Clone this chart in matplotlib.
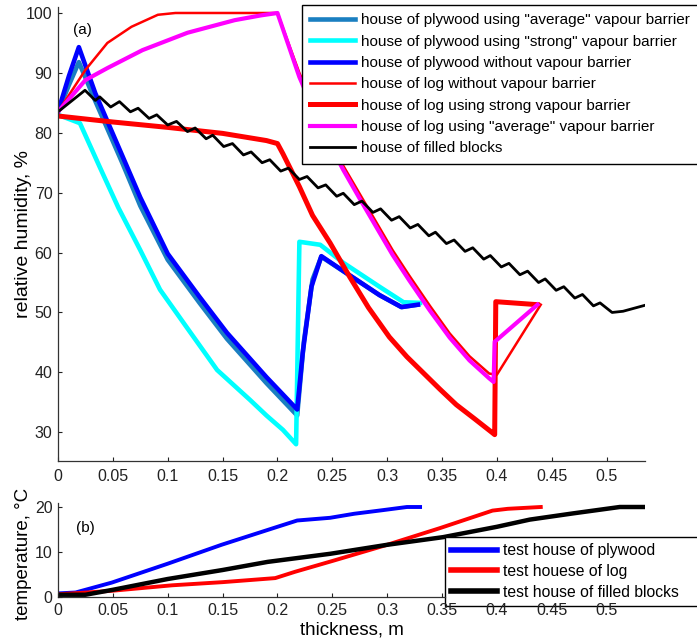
import matplotlib
matplotlib.use("Agg")
import matplotlib.pyplot as plt

plt.rcParams['font.family'] = ['Liberation Sans', 'DejaVu Sans']

# ---- (a) relative humidity ----
ply_avg_x = [0, 0.01, 0.019, 0.034, 0.059, 0.075, 0.1, 0.129, 0.154, 0.19, 0.218, 0.224, 0.232, 0.24, 0.265, 0.293, 0.313, 0.328]
ply_avg_y = [83.5, 88, 91.8, 85.3, 74.8, 67.8, 58.8, 51.6, 45.6, 38.2, 32.8, 45, 55.5, 59.3, 56.3, 52.9, 50.9, 51.3]

ply_strong_x = [0, 0.02, 0.038, 0.055, 0.075, 0.093, 0.117, 0.145, 0.175, 0.19, 0.205, 0.217, 0.22, 0.239, 0.26, 0.293, 0.315, 0.33]
ply_strong_y = [83, 81.6, 74.3, 67.5, 60.4, 53.8, 47.6, 40.4, 35.4, 32.8, 30.4, 28.0, 61.8, 61.3, 58.3, 54.3, 51.7, 51.6]

ply_none_x = [0, 0.01, 0.019, 0.034, 0.059, 0.075, 0.1, 0.129, 0.154, 0.19, 0.218, 0.223, 0.231, 0.24, 0.265, 0.293, 0.313, 0.328]
ply_none_y = [83.5, 89.5, 94.3, 86.6, 76, 69.2, 59.8, 52.6, 46.6, 39.2, 33.8, 43.2, 54.3, 59.4, 56.3, 52.9, 50.9, 51.3]

log_none_x = [0, 0.025, 0.045, 0.067, 0.091, 0.107, 0.2, 0.22, 0.24, 0.26, 0.275, 0.29, 0.305, 0.32, 0.339, 0.357, 0.375, 0.393, 0.40, 0.44]
log_none_y = [83.5, 90.5, 95, 97.7, 99.7, 100, 100, 90, 81.5, 74.5, 69.8, 65.1, 60.4, 56.2, 51.1, 46.5, 42.7, 39.8, 39.6, 51.3]

log_strong_x = [0, 0.05, 0.1, 0.15, 0.19, 0.2, 0.205, 0.22, 0.232, 0.248, 0.266, 0.283, 0.302, 0.318, 0.333, 0.348, 0.363, 0.38, 0.396, 0.398, 0.399, 0.437]
log_strong_y = [82.8, 81.8, 80.9, 79.9, 78.7, 78.2, 76.5, 71, 66.2, 61.6, 55.9, 50.8, 45.9, 42.6, 39.9, 37.2, 34.6, 32.2, 29.9, 29.6, 51.8, 51.3]

log_avg_x = [0, 0.025, 0.045, 0.077, 0.118, 0.161, 0.185, 0.2, 0.22, 0.24, 0.26, 0.275, 0.29, 0.305, 0.32, 0.339, 0.357, 0.375, 0.393, 0.397, 0.398, 0.437]
log_avg_y = [83.5, 88.8, 90.8, 93.8, 96.7, 98.8, 99.6, 100, 89.3, 80.8, 73.8, 69.0, 64.3, 59.6, 55.4, 50.3, 45.8, 42.0, 39.0, 38.4, 45.1, 51.3]

blocks_x = [0, 0.0246, 0.034, 0.038, 0.048, 0.056, 0.066, 0.073, 0.083, 0.090, 0.100, 0.108, 0.118,
            0.125, 0.135, 0.141, 0.151, 0.159, 0.169, 0.176, 0.186, 0.193, 0.203, 0.210, 0.220, 0.227,
            0.237, 0.244, 0.254, 0.260, 0.270, 0.277, 0.287, 0.294, 0.304, 0.311, 0.321, 0.328, 0.338,
            0.344, 0.354, 0.361, 0.371, 0.378, 0.388, 0.394, 0.404, 0.411, 0.421, 0.428, 0.438, 0.444,
            0.454, 0.461, 0.471, 0.478, 0.488, 0.494, 0.505, 0.515, 0.535]
blocks_y = [83.5, 87.1, 85.4, 86.0, 84.3, 85.2, 83.5, 84.1, 82.4, 83.0, 81.3, 81.9, 80.2,
            80.8, 79.0, 79.6, 77.7, 78.2, 76.3, 76.8, 75.0, 75.5, 73.6, 74.1, 72.2, 72.7,
            70.8, 71.3, 69.4, 69.9, 68.0, 68.6, 66.7, 67.3, 65.4, 66.0, 64.1, 64.7, 62.8,
            63.4, 61.5, 62.1, 60.2, 60.8, 58.9, 59.5, 57.6, 58.2, 56.3, 56.9, 55.0, 55.6,
            53.7, 54.3, 52.4, 53.0, 51.1, 51.6, 50.0, 50.2, 51.2]

# ---- (b) temperature ----
t_ply_x = [0, 0.016, 0.025, 0.049, 0.1, 0.149, 0.2, 0.218, 0.248, 0.27, 0.296, 0.318, 0.33]
t_ply_y = [0.8, 1.0, 1.6, 3.2, 7.4, 11.6, 15.6, 17.0, 17.6, 18.5, 19.3, 20, 20]

t_log_x = [0, 0.02, 0.05, 0.104, 0.15, 0.198, 0.216, 0.25, 0.3, 0.348, 0.396, 0.41, 0.44]
t_log_y = [0.6, 0.9, 1.4, 2.6, 3.3, 4.2, 5.6, 8.0, 11.6, 15.3, 19.2, 19.6, 20]

t_blk_x = [0, 0.025, 0.05, 0.1, 0.15, 0.191, 0.248, 0.3, 0.351, 0.4, 0.43, 0.47, 0.512, 0.535]
t_blk_y = [0.5, 0.5, 1.6, 4.0, 6.0, 7.8, 9.6, 11.6, 13.3, 15.6, 17.2, 18.6, 20, 20]

xticks = [0, 0.05, 0.1, 0.15, 0.2, 0.25, 0.3, 0.35, 0.4, 0.45, 0.5]
xtick_labels = ['0', '0.05', '0.1', '0.15', '0.2', '0.25', '0.3', '0.35', '0.4', '0.45', '0.5']

W, H = 697, 642
fig = plt.figure(figsize=(W / 100, H / 100), dpi=100)


def px_axes(left, top, right, bottom):
    return fig.add_axes([left / W, 1 - bottom / H, (right - left) / W, (bottom - top) / H])


def style(ax, xpad):
    for s in ['top', 'right']:
        ax.spines[s].set_visible(False)
    for s in ['left', 'bottom']:
        ax.spines[s].set_color('#333333')
        ax.spines[s].set_linewidth(0.9)
    ax.tick_params(direction='in', length=3, width=0.8, labelsize=11.5, colors='#222222', pad=4)
    ax.tick_params(axis='x', pad=xpad)
    ax.set_xlim(0, 0.535)
    ax.set_xticks(xticks)
    ax.set_xticklabels(xtick_labels)


ax1 = px_axes(58, 7, 645, 461)
style(ax1, 6)
ax1.plot(ply_avg_x, ply_avg_y, color='#1a7fc1', lw=3.3, label='house of plywood using "average" vapour barrier')
ax1.plot(ply_strong_x, ply_strong_y, color='#00ffff', lw=3.3, label='house of plywood using "strong" vapour barrier')
ax1.plot(ply_none_x, ply_none_y, color='#0000ff', lw=3.3, label='house of plywood without vapour barrier')
ax1.plot(log_none_x, log_none_y, color='#ff0000', lw=1.8, label='house of log without vapour barrier')
ax1.plot(log_strong_x, log_strong_y, color='#ff0000', lw=3.6, label='house of log using strong vapour barrier')
ax1.plot(log_avg_x, log_avg_y, color='#ff00ff', lw=3.0, label='house of log using "average" vapour barrier')
ax1.plot(blocks_x, blocks_y, color='black', lw=2.0, label='house of filled blocks')
ax1.set_ylim(25.2, 101)
ax1.set_yticks([30, 40, 50, 60, 70, 80, 90, 100])
ax1.set_ylabel('relative humidity, %', fontsize=14)
ax1.yaxis.set_label_coords(-0.045, 0.5)
ax1.text(0.022, 97.2, '(a)', fontsize=11, ha='center', va='center')
# legend box runs past the right edge of the figure, as in the original
leg1 = ax1.legend(loc='upper left', bbox_to_anchor=(302 / W, 1 - 5 / H - 0.01, 420 / W, 0.01),
                  bbox_transform=fig.transFigure, mode='expand',
                  fontsize=11.0, frameon=True, fancybox=False, framealpha=1, edgecolor='black',
                  handlelength=2.9, handletextpad=0.4, labelspacing=0.48, borderpad=0.55, borderaxespad=0)
leg1.get_frame().set_linewidth(1.0)

ax2 = px_axes(58, 502.5, 645, 597)
style(ax2, 4)
ax2.plot(t_ply_x, t_ply_y, color='#0000ff', lw=2.8, label='test house of plywood')
ax2.plot(t_log_x, t_log_y, color='#ff0000', lw=2.8, label='test houese of log')
ax2.plot(t_blk_x, t_blk_y, color='black', lw=3.2, label='test house of filled blocks')
ax2.set_ylim(0, 21)
ax2.set_yticks([0, 10, 20])
ax2.set_ylabel('temperature, \u00b0C', fontsize=13.5)
ax2.yaxis.set_label_coords(-0.045, 0.46)
ax2.set_xlabel('thickness, m', fontsize=13.5, labelpad=3)
ax2.text(0.025, 15.3, '(b)', fontsize=11, ha='center', va='center')
leg2 = ax2.legend(loc='upper left', bbox_to_anchor=(445 / W, 1 - 537 / H - 0.01, 280 / W, 0.01),
                  bbox_transform=fig.transFigure, mode='expand',
                  fontsize=11.3, frameon=True, fancybox=False, framealpha=1, edgecolor='black',
                  handlelength=2.9, handletextpad=0.4, labelspacing=0.36, borderpad=0.4, borderaxespad=0)
leg2.get_frame().set_linewidth(1.0)
for line in leg2.get_lines():
    line.set_linewidth(4)
# tick labels stay readable in front of the legend; the spine and ticks stop at its edge
ax2.set_axisbelow(False)
leg2.set_zorder(2.2)
ax2.spines['bottom'].set_bounds(0, 0.3525)
for tick in ax2.xaxis.get_major_ticks()[8:]:
    tick.tick1line.set_visible(False)

fig.savefig('out.png', dpi=100)
